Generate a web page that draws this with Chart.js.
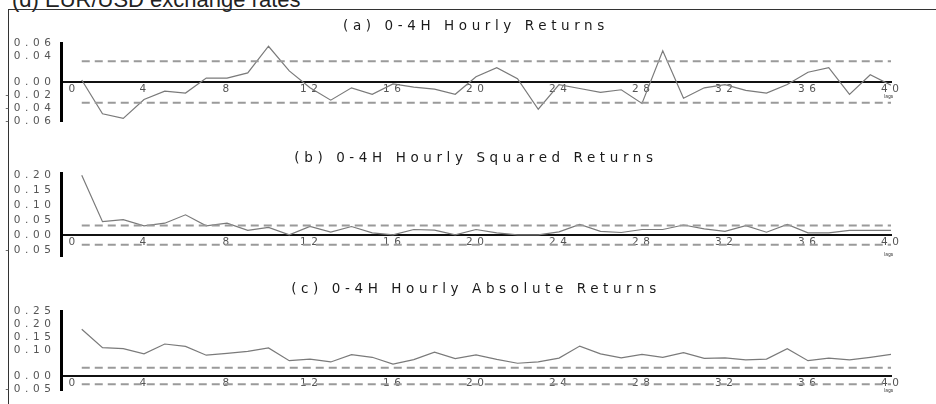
<!DOCTYPE html>
<html>
<head>
<meta charset="utf-8">
<script src="https://cdn.jsdelivr.net/npm/chart.js@4.4.0/dist/chart.umd.min.js"></script>
<style>
  body { margin: 0; background: #fff; }
  #wrap { position: relative; width: 936px; height: 404px; overflow: hidden; background: #fff; }
  #heading { position: absolute; left: 12px; top: -13.4px; font: 22px "Liberation Sans", Arial, sans-serif; color: #222; white-space: nowrap; line-height: normal; }
  #frame { position: absolute; left: 8px; top: 9px; width: 960px; height: 420px; border: 1.5px solid #333; box-sizing: border-box; }
  canvas { position: absolute; left: 0; }
  .lags { position: absolute; font: 10px "DejaVu Sans", sans-serif; color: #333; transform: scale(0.45); transform-origin: left top; }
</style>
</head>
<body>
<div id="wrap">
  <div id="heading">(d) EUR/USD exchange rates</div>
  <div id="frame"></div>
  <canvas id="panelA" width="936" height="135" style="top:0px"></canvas>
  <canvas id="panelB" width="936" height="133" style="top:135px"></canvas>
  <canvas id="panelC" width="936" height="136" style="top:268px"></canvas>
  <div class="lags" style="left:884px;top:94px">lags</div>
  <div class="lags" style="left:884px;top:252px">lags</div>
  <div class="lags" style="left:884px;top:388px">lags</div>
</div>
<script>
// lag axis
const lags = [1, 2, 3, 4, 5, 6, 7, 8, 9, 10, 11, 12, 13, 14, 15, 16, 17, 18, 19, 20,
              21, 22, 23, 24, 25, 26, 27, 28, 29, 30, 31, 32, 33, 34, 35, 36, 37, 38, 39, 40]
const xTicks = [0, 4, 8, 12, 16, 20, 24, 28, 32, 36, 40]

// autocorrelations
const acfReturns = [0.003, -0.049, -0.056, -0.027, -0.014, -0.017, 0.006, 0.006, 0.014, 0.055,
                    0.017, -0.009, -0.028, -0.009, -0.019, -0.003, -0.008, -0.011, -0.019, 0.008,
                    0.022, 0.005, -0.042, -0.004, -0.010, -0.016, -0.012, -0.033, 0.048, -0.025,
                    -0.009, -0.004, -0.013, -0.017, -0.004, 0.015, 0.022, -0.019, 0.011, -0.005]
const acfSquared = [0.200, 0.045, 0.052, 0.031, 0.040, 0.068, 0.031, 0.040, 0.016, 0.026,
                    0.001, 0.029, 0.010, 0.029, 0.008, 0.001, 0.019, 0.017, 0.001, 0.019,
                    0.008, 0.001, 0.001, 0.011, 0.036, 0.013, 0.009, 0.019, 0.019, 0.034,
                    0.021, 0.013, 0.032, 0.010, 0.036, 0.008, 0.008, 0.016, 0.016, 0.016]
const acfAbsolute = [0.180, 0.109, 0.105, 0.085, 0.123, 0.114, 0.080, 0.087, 0.095, 0.108,
                     0.059, 0.065, 0.054, 0.082, 0.072, 0.046, 0.063, 0.092, 0.067, 0.081,
                     0.064, 0.049, 0.054, 0.069, 0.115, 0.085, 0.070, 0.083, 0.072, 0.090,
                     0.068, 0.070, 0.062, 0.065, 0.105, 0.059, 0.069, 0.062, 0.072, 0.083]

// 95% band
const band = 0.032

const yTicksA = [0.06, 0.04, 0.00, -0.02, -0.04, -0.06]
const yTicksB = [0.20, 0.15, 0.10, 0.05, 0.00, -0.05]
const yTicksC = [0.25, 0.20, 0.15, 0.10, 0.00, -0.05]

// plotter-like wide lettering: titles get more spacing than the tick labels,
// scales are put on z 1 so they draw after the datasets hook
const wideText = {
  id: 'wideText',
  beforeDraw(chart) { chart.ctx.letterSpacing = '4.6px' },
  beforeDatasetsDraw(chart) { chart.ctx.letterSpacing = '2.5px' },
}

const tickFont = { family: '"DejaVu Sans", sans-serif', size: 10.5 }

function makePanel(id, title, values, yTicks, yMin, yMax, pad) {
  const ctx = document.getElementById(id).getContext('2d')
  const bandLine = (v) => ({
    data: [{x: lags[0], y: v}, {x: lags[lags.length - 1], y: v}],
    borderColor: '#9a9a9a',
    borderWidth: 2,
    borderDash: [8, 5],
    pointRadius: 0,
  })
  return new Chart(ctx, {
    type: 'line',
    data: {
      datasets: [
        bandLine(band),
        bandLine(-band),
        {
          data: lags.map((l, i) => ({x: l, y: values[i]})),
          borderColor: '#7a7a7a',
          borderWidth: 1.2,
          pointRadius: 0,
          tension: 0,
        },
      ]
    },
    options: {
      responsive: false,
      devicePixelRatio: 1,
      animation: false,
      layout: { padding: { left: 0, right: 45, top: 0, bottom: pad.bottom } },
      plugins: {
        legend: { display: false },
        tooltip: { enabled: false },
        title: {
          display: true,
          fullSize: false,
          text: title,
          color: '#1a1a1a',
          font: { family: '"DejaVu Sans", sans-serif', size: 13.5, weight: 'normal', lineHeight: 1.2 },
          padding: { top: pad.titleTop, bottom: pad.titleBottom },
        },
      },
      scales: {
        x: {
          type: 'linear',
          min: 0,
          max: 40,
          z: 1,
          position: { y: 0 },
          afterBuildTicks: s => { s.ticks = xTicks.map(v => ({value: v})) },
          grid: { display: false, drawTicks: false },
          border: { display: true, color: '#111', width: 2 },
          ticks: {
            font: tickFont,
            color: '#555',
            padding: 1,
            labelOffset: 1.2,
            maxRotation: 0,
            autoSkip: false,
            callback: v => v === 0 ? '   0' : String(v),
          },
        },
        y: {
          min: yMin,
          max: yMax,
          z: 1,
          afterFit: s => { s.width = 61 },
          afterBuildTicks: s => { s.ticks = yTicks.map(v => ({value: v})) },
          grid: { display: false, drawTicks: false },
          border: { display: true, color: '#000', width: 3 },
          ticks: {
            font: tickFont,
            color: '#555',
            padding: 5.5,
            callback: v => v.toFixed(2),
          },
        },
      },
    },
    plugins: [wideText],
  })
}

makePanel('panelA', '(a) 0-4H Hourly Returns', acfReturns, yTicksA, -0.061, 0.06,
  { bottom: 13.4, titleTop: 18.2, titleBottom: 8.6 })
makePanel('panelB', '(b) 0-4H Hourly Squared Returns', acfSquared, yTicksB, -0.07, 0.205,
  { bottom: 6.3, titleTop: 15.2, titleBottom: 7.3 })
makePanel('panelC', '(c) 0-4H Hourly Absolute Returns', acfAbsolute, yTicksC, -0.055, 0.25,
  { bottom: 13.7, titleTop: 13.2, titleBottom: 13.6 })
</script>
</body>
</html>
